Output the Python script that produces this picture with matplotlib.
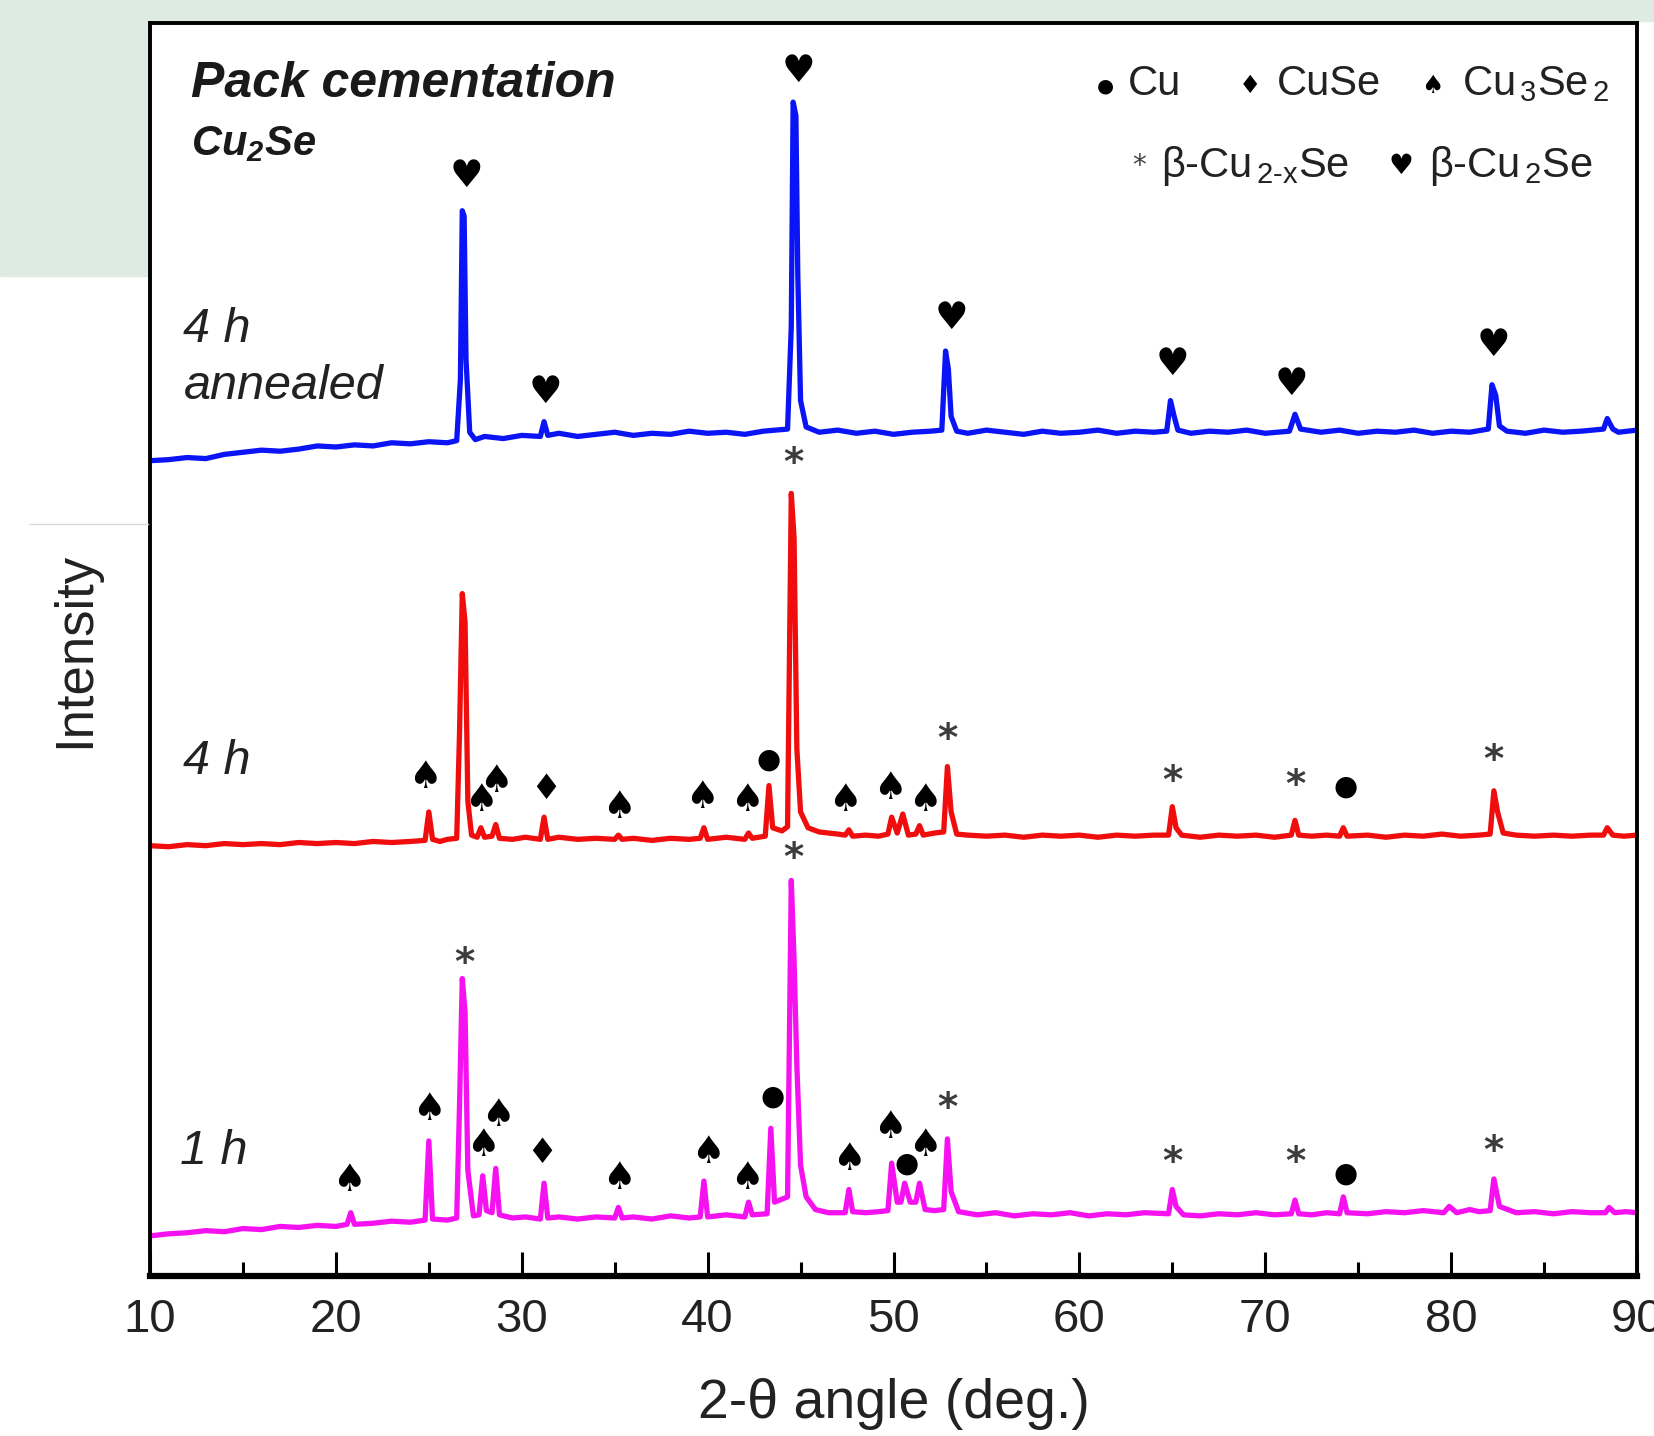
import matplotlib
matplotlib.use("Agg")
import matplotlib.pyplot as plt
from matplotlib.patches import Rectangle
from matplotlib.lines import Line2D
from matplotlib.ticker import MultipleLocator

plt.rcParams['font.family'] = ['Liberation Sans', 'DejaVu Sans']
plt.rcParams['mathtext.fontset'] = 'custom'
plt.rcParams['mathtext.rm'] = 'Liberation Sans'
plt.rcParams['mathtext.it'] = 'Liberation Sans:italic'
plt.rcParams['mathtext.bf'] = 'Liberation Sans:bold:italic'

# ---- traces (2-theta, intensity a.u.) ----
blue_pts = [(10, 773), (11, 774), (12, 776), (13, 775), (14, 779), (15, 781), (16, 783), (17, 782),
            (18, 784), (19, 787), (20, 786), (21, 788), (22, 787), (23, 790), (24, 789), (25, 791),
            (26, 790), (26.5, 792), (26.7, 850), (26.8, 1010), (26.9, 1005), (27.0, 870), (27.2, 800),
            (27.5, 793), (28, 796), (29, 794), (30, 797), (31.0, 796), (31.2, 810), (31.4, 797),
            (32, 799), (33, 796), (34, 798), (35, 800), (36, 797), (37, 799), (38, 798), (39, 801),
            (40, 799), (41, 800), (42, 798), (43, 801), (44.3, 803), (44.5, 900), (44.6, 1113),
            (44.75, 1100), (44.85, 950), (45.0, 830), (45.3, 805), (46, 800), (47, 802), (48, 799),
            (49, 801), (50, 798), (51, 800), (52, 801), (52.6, 802), (52.8, 877), (52.95, 860),
            (53.1, 815), (53.4, 801), (54, 799), (55, 802), (56, 800), (57, 798), (58, 801),
            (59, 799), (60, 800), (61, 802), (62, 799), (63, 801), (64, 800), (64.7, 801),
            (64.9, 830), (65.1, 815), (65.3, 802), (66, 799), (67, 801), (68, 800), (69, 802),
            (70, 799), (71.3, 801), (71.6, 817), (71.9, 803), (73, 800), (74, 802), (75, 799),
            (76, 801), (77, 800), (78, 802), (79, 799), (80, 801), (81, 800), (82.0, 803),
            (82.2, 845), (82.4, 835), (82.6, 806), (83, 801), (84, 799), (85, 802), (86, 800),
            (87, 801), (88.2, 803), (88.4, 813), (88.7, 803), (89, 800), (90, 802)]

red_pts = [(10, 408), (11, 407), (12, 409), (13, 408), (14, 410), (15, 409), (16, 410), (17, 409),
           (18, 411), (19, 410), (20, 411), (21, 410), (22, 412), (23, 411), (24, 412), (24.8, 413),
           (25.0, 440), (25.2, 414), (25.6, 412), (26.0, 414), (26.5, 415), (26.65, 513), (26.8, 647),
           (26.95, 620), (27.1, 450), (27.3, 418), (27.6, 416), (27.8, 425), (28.0, 416), (28.4, 417),
           (28.6, 428), (28.8, 415), (29.5, 414), (30.2, 416), (31.0, 414), (31.2, 435), (31.4, 414),
           (32, 416), (33, 414), (34, 415), (35.0, 414), (35.2, 418), (35.4, 414), (36, 415),
           (37, 413), (38, 415), (39, 414), (39.6, 415), (39.8, 425), (40.0, 414), (41, 416),
           (42.0, 414), (42.2, 420), (42.4, 415), (43.1, 417), (43.3, 465), (43.5, 425), (44.0, 422),
           (44.3, 426), (44.5, 742), (44.65, 700), (44.8, 500), (45.0, 440), (45.4, 425), (46, 421),
           (47, 419), (47.4, 418), (47.6, 423), (47.8, 417), (48.5, 418), (49.2, 417), (49.7, 419),
           (49.9, 435), (50.2, 420), (50.5, 438), (50.8, 418), (51.2, 419), (51.4, 427), (51.6, 418),
           (52.2, 420), (52.7, 421), (52.9, 483), (53.1, 440), (53.4, 419), (54, 418), (55, 417),
           (56, 418), (57, 416), (58, 418), (59, 417), (60, 418), (61, 416), (62, 418), (63, 417),
           (64, 418), (64.8, 418), (65.0, 445), (65.2, 425), (65.5, 418), (66.5, 416), (67.5, 418),
           (68.5, 417), (69.5, 418), (70.5, 416), (71.4, 418), (71.6, 432), (71.8, 418), (72.5, 417),
           (73.3, 418), (74.0, 417), (74.2, 425), (74.4, 417), (75.5, 418), (76.5, 416), (77.5, 418),
           (78.5, 417), (79.5, 419), (80.5, 417), (81.5, 418), (82.1, 419), (82.3, 460), (82.5, 440),
           (82.8, 420), (83.5, 418), (84.5, 417), (85.5, 418), (86.5, 417), (87.5, 418), (88.2, 418),
           (88.4, 425), (88.7, 418), (89.3, 417), (90, 418)]

mag_pts = [(10, 38), (11, 40), (12, 41), (13, 43), (14, 42), (15, 45), (16, 44), (17, 47), (18, 46),
           (19, 48), (20, 47), (20.6, 49), (20.8, 60), (21.0, 49), (22, 50), (23, 52), (24, 51),
           (24.8, 53), (25.0, 128), (25.2, 54), (26.0, 53), (26.5, 55), (26.65, 160), (26.8, 282),
           (26.95, 250), (27.1, 100), (27.4, 57), (27.7, 58), (27.9, 95), (28.1, 62), (28.4, 60),
           (28.6, 102), (28.8, 58), (29.5, 55), (30.2, 56), (31.0, 54), (31.2, 88), (31.4, 55),
           (32, 56), (33, 54), (34, 56), (35.0, 55), (35.2, 65), (35.4, 55), (36, 56), (37, 54),
           (38, 57), (39, 55), (39.6, 56), (39.8, 90), (40.0, 56), (41, 58), (42.0, 56), (42.2, 70),
           (42.4, 58), (43.2, 59), (43.4, 140), (43.6, 70), (44.3, 75), (44.5, 375), (44.65, 300),
           (44.8, 200), (45.0, 105), (45.3, 75), (45.8, 63), (46.5, 60), (47.4, 60), (47.6, 82),
           (47.8, 61), (48.5, 60), (49.2, 61), (49.7, 62), (49.9, 107), (50.2, 70), (50.4, 70),
           (50.6, 88), (50.9, 70), (51.2, 70), (51.4, 88), (51.7, 63), (52.2, 62), (52.7, 63),
           (52.9, 130), (53.1, 80), (53.5, 61), (54.5, 58), (55.5, 60), (56.5, 57), (57.5, 59),
           (58.5, 58), (59.5, 60), (60.5, 57), (61.5, 59), (62.5, 58), (63.5, 60), (64.8, 59),
           (65.0, 82), (65.2, 66), (65.6, 58), (66.5, 57), (67.5, 59), (68.5, 58), (69.5, 60),
           (70.5, 58), (71.4, 59), (71.6, 72), (71.8, 59), (72.5, 58), (73.3, 60), (74.0, 59),
           (74.2, 75), (74.4, 60), (75.5, 59), (76.5, 61), (77.5, 60), (78.5, 62), (79.6, 60),
           (79.9, 66), (80.3, 60), (81, 63), (81.5, 61), (82.1, 62), (82.3, 92), (82.6, 66),
           (83.5, 60), (84.5, 61), (85.5, 59), (86.5, 61), (87.5, 60), (88.3, 60), (88.5, 65),
           (88.8, 60), (89.4, 61), (90, 60)]

# ---- phase markers (2-theta, height) ----
blue_heart = [(27.0, 1042), (31.3, 837), (44.9, 1142), (53.1, 907), (65.0, 864), (71.4, 845), (82.3, 882)]

red_spade = [(24.8, 472), (27.8, 450), (28.6, 468), (35.2, 444), (39.7, 453), (42.1, 450),
             (47.4, 450), (49.8, 462), (51.7, 450)]
red_diamond = [(31.3, 462)]
red_circle = [(43.3, 490), (74.3, 464)]
red_star = [(44.6, 770), (52.9, 508), (65.0, 468), (71.6, 465), (82.3, 488)]

mag_spade = [(20.7, 90), (25.0, 157), (27.9, 123), (28.7, 152), (35.2, 92), (40.0, 117),
             (42.1, 92), (47.6, 110), (49.8, 140), (51.7, 123)]
mag_diamond = [(31.1, 117)]
mag_circle = [(43.5, 170), (50.7, 107), (74.3, 97)]
mag_star = [(26.9, 296), (44.6, 395), (52.9, 158), (65.0, 107), (71.6, 107), (82.3, 118)]

fig = plt.figure(figsize=(16.54, 14.36), dpi=100)

# light green screenshot background behind the top-left corner
bg = '#deebe2'
fig.add_artist(Rectangle((0, 1 - 21 / 1436), 1, 21 / 1436, transform=fig.transFigure,
                         color=bg, zorder=0))
fig.add_artist(Rectangle((0, 1 - 276 / 1436), 150 / 1654, 276 / 1436, transform=fig.transFigure,
                         color=bg, zorder=0))
fig.add_artist(Line2D([30 / 1654, 148 / 1654], [1 - 524 / 1436, 1 - 524 / 1436],
                      transform=fig.transFigure, color='#d8d8d8', lw=1))

ax = fig.add_axes([150 / 1654, 1 - 1276 / 1436, (1637 - 150) / 1654, (1276 - 23) / 1436])

for pts, col in [(blue_pts, '#0a14f5'), (red_pts, '#f00d0d'), (mag_pts, '#f511f0')]:
    xs, ys = zip(*pts)
    ax.plot(xs, ys, color=col, lw=3.8)

sym = {'spade': '\u2660', 'diamond': '\u2666', 'circle': '\u25cf', 'heart': '\u2665'}
def put(points, kind, size=27, color='black'):
    for x, y in points:
        ax.text(x, y, sym[kind], ha='center', va='center', fontsize=size, color=color,
                family='DejaVu Sans')

def put_star(points):
    for x, y in points:
        ax.text(x, y, '*', ha='center', va='center', fontsize=28, color='#3c3c3c',
                family='DejaVu Sans', fontweight='bold')

put(blue_heart, 'heart', 27)
put(red_spade, 'spade')
put(red_diamond, 'diamond', 25)
put(red_circle, 'circle', 20)
put_star(red_star)
put(mag_spade, 'spade')
put(mag_diamond, 'diamond', 25)
put(mag_circle, 'circle', 20)
put_star(mag_star)

# labels inside the plot
ax.text(12.2, 1130, 'Pack cementation', fontsize=36, fontweight='bold', style='italic',
        va='center', color='#1a1a1a')
ax.text(12.2, 1073, r'Cu$_\mathbf{2}$Se', fontsize=30, fontweight='bold', style='italic',
        va='center', color='#1a1a1a')
ax.text(11.8, 897, '4 h', fontsize=35, style='italic', va='center', color='#222222')
ax.text(11.8, 843, 'annealed', fontsize=35, style='italic', va='center', color='#222222')
ax.text(11.8, 488, '4 h', fontsize=35, style='italic', va='center', color='#222222')
ax.text(11.6, 118, '1 h', fontsize=35, style='italic', va='center', color='#222222')

# phase key
kw = dict(fontsize=30, va='center', color='#222222')
ax.text(61.4, 1128, sym['circle'], ha='center', va='center', fontsize=14, family='DejaVu Sans')
ax.text(62.6, 1130, 'Cu', **kw)
ax.text(69.2, 1128, sym['diamond'], ha='center', va='center', fontsize=18, family='DejaVu Sans')
ax.text(70.6, 1130, 'CuSe', **kw)
ax.text(79.0, 1128, sym['spade'], ha='center', va='center', fontsize=18, family='DejaVu Sans')
ax.text(80.6, 1130, r'Cu$_{\,3}$Se$_{\,2}$', **kw)
ax.text(63.2, 1052, '*', ha='center', va='center', fontsize=20, color='#444444', family='DejaVu Sans')
ax.text(64.4, 1052, '\u03b2-Cu' + r'$_{\,\text{2-x}}$' + 'Se', **kw)
ax.text(77.3, 1052, sym['heart'], ha='center', va='center', fontsize=20, family='DejaVu Sans')
ax.text(78.8, 1052, '\u03b2-Cu' + r'$_{\,2}$' + 'Se', **kw)

ax.set_xlim(10, 90)
ax.set_ylim(0, 1188)
ax.xaxis.set_major_locator(MultipleLocator(10))
ax.xaxis.set_minor_locator(MultipleLocator(5))
ax.tick_params(axis='x', which='major', direction='in', length=17, width=2.2, labelsize=34,
               pad=16, top=False, labelcolor='#222222')
ax.tick_params(axis='x', which='minor', direction='in', length=10, width=2.2, top=False)
ax.set_yticks([])
for s in ['left', 'right', 'top']:
    ax.spines[s].set_linewidth(2.8)
ax.spines['bottom'].set_linewidth(4.5)

ax.set_xlabel('2-\u03b8 angle (deg.)', fontsize=40, labelpad=26, color='#222222')
ax.set_ylabel('Intensity', fontsize=38, labelpad=36, color='#222222')

fig.savefig('out.png', dpi=100)
